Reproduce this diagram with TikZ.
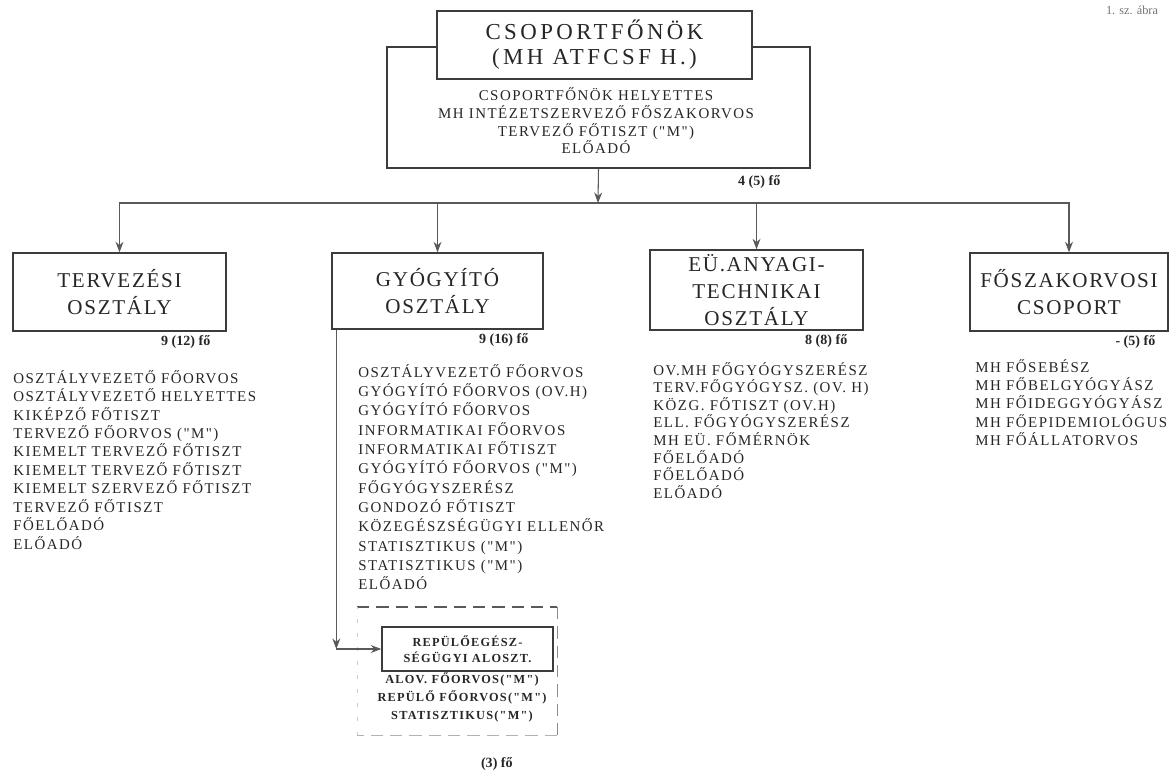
\documentclass[tikz,border=0pt]{standalone}
\usepackage{fontspec}
\setmainfont{Liberation Serif}
\newfontfamily\headfont[LetterSpace=15]{Liberation Serif}
\newfontfamily\titlefont[LetterSpace=8]{Liberation Serif}
\newfontfamily\listfont[LetterSpace=10]{Liberation Serif}
\usepackage{tikz}
\usetikzlibrary{arrows.meta, calc, positioning}
\definecolor{inkgray}{RGB}{60, 60, 60}

\begin{document}
\begin{tikzpicture}[x=0.02cm, y=-0.02cm,
    unitbox/.style={draw=inkgray, line width=0.8pt, fill=white, align=center, inner sep=0pt, text=black!85, font=\titlefont\fontsize{12}{15.4}\selectfont},
    staff/.style={align=left, inner sep=0pt, text=black!85, font=\listfont\fontsize{8.5}{10.5}\selectfont},
    count/.style={inner sep=0pt, text=black!85, font=\bfseries\fontsize{8}{9}\selectfont},
    conn/.style={draw=inkgray!85, line width=0.6pt, -{Stealth[length=6pt, width=4.5pt]}}]
    \useasboundingbox (0,0) rectangle (1172,772);

    % top group
    \node[draw=inkgray, line width=0.8pt, minimum width=8.46cm, minimum height=2.42cm] (chiefgrp) at (598.5,107.5) {};
    \node[unitbox, minimum width=6.3cm, minimum height=1.36cm, font=\headfont\fontsize{13}{14.2}\selectfont] (chief) at (594.5,45) {CSOPORTFŐNÖK\\(MH ATFCSF H.)};
    \node[staff, align=center, font=\listfont\fontsize{8.5}{10.1}\selectfont] (chiefstaff) at (596,121) {CSOPORTFŐNÖK HELYETTES\\MH INTÉZETSZERVEZŐ FŐSZAKORVOS\\TERVEZŐ FŐTISZT ("M")\\ELŐADÓ};
    \node[count, anchor=north east] (chiefcnt) at ($(chiefgrp.south east)+(-30,7)$) {4 (5) fő};
    \node[inner sep=0pt, text=black!55, font=\fontsize{7}{8}\selectfont] (figno) at (1132,10) {1. sz. ábra};

    % units
    \node[unitbox, minimum width=4.26cm, minimum height=1.56cm] (terv) at (119.5,292) {TERVEZÉSI\\OSZTÁLY};
    \node[unitbox, minimum width=4.22cm, minimum height=1.52cm] (gyog) at (437.5,291) {GYÓGYÍTÓ\\OSZTÁLY};
    \node[unitbox, minimum width=4.26cm, minimum height=1.6cm] (eu) at (756.5,290) {EÜ.ANYAGI-\\TECHNIKAI\\OSZTÁLY};
    \node[unitbox, minimum width=3.96cm, minimum height=1.56cm] (fosz) at (1069,292) {FŐSZAKORVOSI\\CSOPORT};

    \coordinate (bus) at (598,203);
    \draw[conn] (chiefgrp.south) -- (bus);
    \foreach \u in {terv, gyog, eu, fosz}
        \draw[conn] (bus) -| (\u.north);

    % staff counts
    \node[count, below left=0.08cm and 0.32cm of terv.south east] (tervcnt) {9 (12) fő};
    \node[count, below left=0.08cm and 0.3cm of gyog.south east] (gyogcnt) {9 (16) fő};
    \node[count, below left=0.08cm and 0.32cm of eu.south east] (eucnt) {8 (8) fő};
    \node[count, below left=0.08cm and 0.26cm of fosz.south east] (foszcnt) {- (5) fő};

    % staff lists
    \node[staff, anchor=north west] (tervstaff) at (13,370) {OSZTÁLYVEZETŐ FŐORVOS\\OSZTÁLYVEZETŐ HELYETTES\\KIKÉPZŐ FŐTISZT\\TERVEZŐ FŐORVOS ("M")\\KIEMELT TERVEZŐ FŐTISZT\\KIEMELT TERVEZŐ FŐTISZT\\KIEMELT SZERVEZŐ FŐTISZT\\TERVEZŐ FŐTISZT\\FŐELŐADÓ\\ELŐADÓ};
    \node[staff, anchor=north west, font=\listfont\fontsize{8.5}{11}\selectfont] (gyogstaff) at (358,364) {OSZTÁLYVEZETŐ FŐORVOS\\GYÓGYÍTÓ FŐORVOS (OV.H)\\GYÓGYÍTÓ FŐORVOS\\INFORMATIKAI FŐORVOS\\INFORMATIKAI FŐTISZT\\GYÓGYÍTÓ FŐORVOS ("M")\\FŐGYÓGYSZERÉSZ\\GONDOZÓ FŐTISZT\\KÖZEGÉSZSÉGÜGYI ELLENŐR\\STATISZTIKUS ("M")\\STATISZTIKUS ("M")\\ELŐADÓ};
    \node[staff, anchor=north west, font=\listfont\fontsize{8.5}{10}\selectfont] (eustaff) at (653,362) {OV.MH FŐGYÓGYSZERÉSZ\\TERV.FŐGYÓGYSZ. (OV. H)\\KÖZG. FŐTISZT (OV.H)\\ELL. FŐGYÓGYSZERÉSZ\\MH EÜ. FŐMÉRNÖK\\FŐELŐADÓ\\FŐELŐADÓ\\ELŐADÓ};
    \node[staff, anchor=north west, font=\listfont\fontsize{8.5}{10.4}\selectfont] (foszstaff) at (975,359) {MH FŐSEBÉSZ\\MH FŐBELGYÓGYÁSZ\\MH FŐIDEGGYÓGYÁSZ\\MH FŐEPIDEMIOLÓGUS\\MH FŐÁLLATORVOS};

    % sub-department
    \draw[dashed, dash pattern=on 7pt off 4pt, inkgray!85, line width=0.6pt] (357,607) -- (557,607);
    \draw[dashed, dash pattern=on 7pt off 4pt, black!45, line width=0.5pt] (557,607) -- (557,735);
    \draw[dashed, dash pattern=on 7pt off 4pt, black!30, line width=0.5pt] (557,735) -- (357,735);
    \draw[dashed, dash pattern=on 2pt off 6pt, black!20, line width=0.5pt] (357,735) -- (357,607);

    \node[unitbox, minimum width=3.42cm, minimum height=0.88cm, font=\listfont\bfseries\fontsize{7}{9.1}\selectfont] (repulo) at (467.5,649) {REPÜLŐEGÉSZ-\\SÉGÜGYI ALOSZT.};
    \node[staff, align=center, font=\listfont\bfseries\fontsize{7}{10}\selectfont] (repulostaff) at (462,697.5) {ALOV. FŐORVOS("M")\\REPÜLŐ FŐORVOS("M")\\STATISZTIKUS("M")};
    \node[count, anchor=north east] (repulocnt) at (513,757) {(3) fő};

    \coordinate (gyogleg) at ($(gyog.south west)+(5,0)$);
    \coordinate (bend) at (gyogleg |- repulo.west);
    \draw[conn] (gyogleg) -- (bend);
    \draw[conn] (bend) -- (repulo.west);
\end{tikzpicture}
\end{document}
